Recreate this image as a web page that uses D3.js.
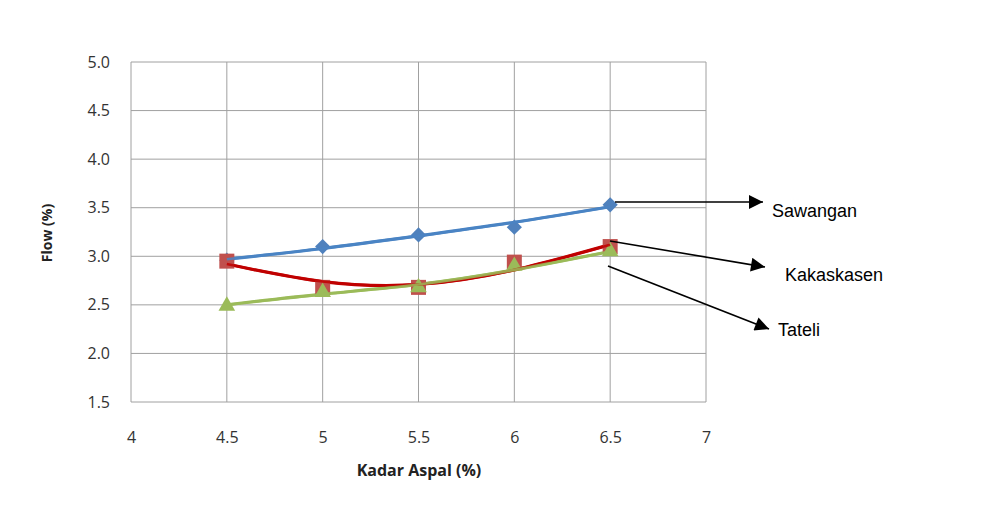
<!DOCTYPE html>
<html>
<head>
<meta charset="utf-8">
<script src="https://cdn.jsdelivr.net/npm/d3@7"></script>
<style>
  body { margin: 0; background: #fff; }
  svg { display: block; }
</style>
</head>
<body>
<svg id="drawing_region"></svg>
<script>
// data
const kadar = [4.5, 5, 5.5, 6, 6.5];
const sawangan = [2.96, 3.10, 3.22, 3.30, 3.53];
const kakaskasen = [2.95, 2.68, 2.68, 2.94, 3.10];
const tateli = [2.49, 2.63, 2.68, 2.90, 3.05];
// trend lines (as drawn in the picture)
const sawanganTrend = [2.97, 3.08, 3.21, 3.35, 3.51];
const kakaskasenTrend = [2.92, 2.74, 2.71, 2.86, 3.12];
const tateliTrend = [2.50, 2.61, 2.71, 2.86, 3.05];
const xTicks = [4, 4.5, 5, 5.5, 6, 6.5, 7];
const yTicks = [1.5, 2.0, 2.5, 3.0, 3.5, 4.0, 4.5, 5.0];

const series = [
    { name: 'Sawangan', values: sawangan, trend: sawanganTrend, line: '#4a84c4', marker: '#4f81bd', shape: d3.symbolSquare, size: 115, rotate: 45 },
    { name: 'Kakaskasen', values: kakaskasen, trend: kakaskasenTrend, line: '#c00000', marker: '#c0504d', shape: d3.symbolSquare, size: 225, rotate: 0 },
    { name: 'Tateli', values: tateli, trend: tateliTrend, line: '#9bbb59', marker: '#9bbb59', shape: d3.symbolTriangle, size: 120, rotate: 0 }
];

const width = 981, height = 511;
const margin = {top: 62, right: 275, bottom: 109, left: 131};
const inner_width = width - margin.left - margin.right;
const inner_height = height - margin.top - margin.bottom;

const svg = d3.select('#drawing_region')
    .attr('width', width)
    .attr('height', height);

const defs = svg.append('defs');
defs.append('marker')
    .attr('id', 'arrow')
    .attr('viewBox', '0 0 10 10')
    .attr('refX', 10)
    .attr('refY', 5)
    .attr('markerWidth', 15)
    .attr('markerHeight', 14)
    .attr('markerUnits', 'userSpaceOnUse')
    .attr('orient', 'auto')
    .append('path')
    .attr('d', 'M0,0 L10,5 L0,10 Z')
    .attr('fill', '#000');

const chart = svg.append('g')
    .attr('transform', `translate(${margin.left}, ${margin.top})`);

const xscale = d3.scaleLinear().domain([4, 7]).range([0, inner_width]);
const yscale = d3.scaleLinear().domain([1.5, 5.0]).range([inner_height, 0]);

// grid
chart.append('g')
    .selectAll('line')
    .data(xTicks)
    .join('line')
    .attr('x1', d => xscale(d)).attr('x2', d => xscale(d))
    .attr('y1', 0).attr('y2', inner_height)
    .attr('stroke', '#a0a0a0').attr('stroke-width', 1);

chart.append('g')
    .selectAll('line')
    .data(yTicks)
    .join('line')
    .attr('x1', 0).attr('x2', inner_width)
    .attr('y1', d => yscale(d)).attr('y2', d => yscale(d))
    .attr('stroke', '#a0a0a0').attr('stroke-width', 1);

// axes (labels only)
const xaxis = d3.axisBottom(xscale).tickValues(xTicks).tickSize(0).tickPadding(30).tickFormat(d3.format('~g'));
const yaxis = d3.axisLeft(yscale).tickValues(yTicks).tickSize(0).tickPadding(21).tickFormat(d3.format('.1f'));

const xg = chart.append('g')
    .attr('transform', `translate(0, ${inner_height})`)
    .call(xaxis);
const yg = chart.append('g').call(yaxis);

[xg, yg].forEach(g => {
    g.select('.domain').remove();
    g.selectAll('text')
        .attr('font-family', '"Open Sans", "DejaVu Sans", sans-serif')
        .attr('font-size', '16px')
        .attr('fill', '#333');
});

// series
const line = d3.line()
    .x((d, i) => xscale(kadar[i]))
    .y(d => yscale(d))
    .curve(d3.curveNatural);

series.forEach(s => {
    chart.append('path')
        .attr('d', line(s.trend))
        .attr('fill', 'none')
        .attr('stroke', s.line)
        .attr('stroke-width', 3.2);
});

series.forEach(s => {
    chart.append('g')
        .selectAll('path')
        .data(s.values)
        .join('path')
        .attr('transform', (d, i) => `translate(${xscale(kadar[i])}, ${yscale(d)}) rotate(${s.rotate})`)
        .attr('d', d3.symbol().type(s.shape).size(s.size))
        .attr('fill', s.marker);
});

// trend lines again, over the markers as in the picture
series.forEach(s => {
    chart.append('path')
        .attr('d', line(s.trend))
        .attr('fill', 'none')
        .attr('stroke', s.line)
        .attr('stroke-width', 2.6)
        .attr('opacity', 0.85);
});

// axis titles
svg.append('text')
    .attr('x', 419)
    .attr('y', 476)
    .attr('text-anchor', 'middle')
    .attr('font-family', '"Open Sans", "DejaVu Sans", sans-serif')
    .attr('font-size', '16px')
    .attr('font-weight', 'bold')
    .attr('fill', '#222')
    .text('Kadar Aspal (%)');

svg.append('text')
    .attr('transform', 'translate(52, 233) rotate(-90)')
    .attr('text-anchor', 'middle')
    .attr('font-family', '"Open Sans", "DejaVu Sans", sans-serif')
    .attr('font-size', '14px')
    .attr('font-weight', 'bold')
    .attr('fill', '#222')
    .text('Flow (%)');

// callout arrows and names
const callouts = [
    { name: 'Sawangan', from: [615, 202], to: [763, 202], text: [772, 217] },
    { name: 'Kakaskasen', from: [610, 241], to: [765, 267], text: [785, 281] },
    { name: 'Tateli', from: [608, 266], to: [769, 329], text: [778, 336] }
];

callouts.forEach(c => {
    svg.append('line')
        .attr('x1', c.from[0]).attr('y1', c.from[1])
        .attr('x2', c.to[0]).attr('y2', c.to[1])
        .attr('stroke', '#000')
        .attr('stroke-width', 1.6)
        .attr('marker-end', 'url(#arrow)');
    svg.append('text')
        .attr('x', c.text[0])
        .attr('y', c.text[1])
        .attr('font-family', '"Liberation Sans", Arial, sans-serif')
        .attr('font-size', '18px')
        .attr('fill', '#000')
        .text(c.name);
});
</script>
</body>
</html>
